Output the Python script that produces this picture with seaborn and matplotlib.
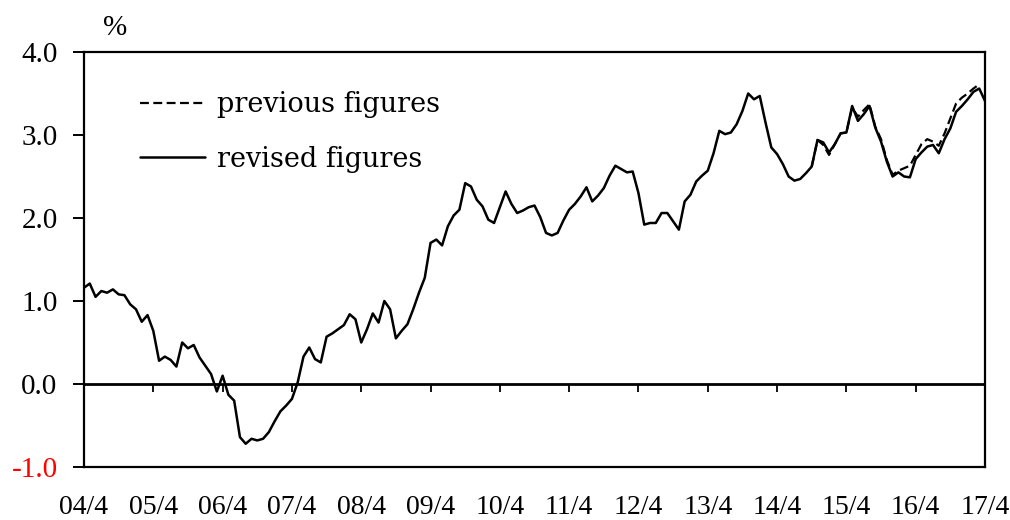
import numpy as np
import pandas as pd
import matplotlib
matplotlib.use("Agg")
import matplotlib.pyplot as plt
import seaborn as sns
from matplotlib.lines import Line2D

# monthly values, 2004/4 .. 2017/4 (%)
revised = [
    1.16, 1.21, 1.05, 1.12, 1.10, 1.14, 1.08, 1.07, 0.96, 0.90, 0.75, 0.83,
    0.64, 0.28, 0.33, 0.29, 0.21, 0.50, 0.43, 0.47, 0.32, 0.22, 0.12, -0.09,
    0.10, -0.13, -0.20, -0.64, -0.72, -0.66, -0.68, -0.66, -0.58, -0.45, -0.33, -0.26,
    -0.18, 0.02, 0.33, 0.44, 0.30, 0.26, 0.57, 0.61, 0.66, 0.71, 0.84, 0.78,
    0.50, 0.66, 0.85, 0.74, 1.00, 0.90, 0.55, 0.64, 0.72, 0.90, 1.10, 1.28,
    1.70, 1.74, 1.67, 1.90, 2.03, 2.10, 2.42, 2.38, 2.22, 2.14, 1.98, 1.94,
    2.13, 2.32, 2.17, 2.06, 2.09, 2.13, 2.15, 2.01, 1.82, 1.79, 1.82, 1.97,
    2.10, 2.17, 2.26, 2.37, 2.20, 2.27, 2.36, 2.51, 2.63, 2.59, 2.55, 2.56,
    2.30, 1.92, 1.94, 1.94, 2.06, 2.06, 1.96, 1.86, 2.20, 2.28, 2.44, 2.51,
    2.57, 2.78, 3.05, 3.01, 3.03, 3.13, 3.29, 3.50, 3.43, 3.47, 3.15, 2.85,
    2.77, 2.65, 2.50, 2.45, 2.47, 2.54, 2.62, 2.94, 2.91, 2.79, 2.89, 3.02,
    3.03, 3.35, 3.17, 3.25, 3.35, 3.09, 2.92, 2.68, 2.50, 2.55, 2.50, 2.49,
    2.71, 2.79, 2.86, 2.88, 2.78, 2.95, 3.08, 3.28, 3.35, 3.43, 3.52, 3.56,
    3.41,
]

# previous figures only differ from 2014/10 on (month index 126 .. 155)
prev_start = 126
previous = [
    2.62, 2.94, 2.88, 2.76, 2.89, 3.02,
    3.03, 3.33, 3.22, 3.30, 3.37, 3.10, 2.95, 2.70, 2.52, 2.57, 2.60, 2.63,
    2.76, 2.89, 2.95, 2.92, 2.87, 3.02, 3.20, 3.38, 3.45, 3.50, 3.56, 3.61,
]

year_labels = ["04/4", "05/4", "06/4", "07/4", "08/4", "09/4", "10/4",
               "11/4", "12/4", "13/4", "14/4", "15/4", "16/4", "17/4"]
y_ticks = [-1.0, 0.0, 1.0, 2.0, 3.0, 4.0]

df_rev = pd.DataFrame({"month": np.arange(len(revised)), "value": revised})
df_prev = pd.DataFrame({"month": np.arange(prev_start, prev_start + len(previous)),
                        "value": previous})

sns.set_theme(style="white", rc={"text.color": "black", "xtick.color": "black",
                                 "ytick.color": "black", "axes.labelcolor": "black"})
plt.rcParams["font.family"] = ["Liberation Serif", "DejaVu Serif"]

fig = plt.figure(figsize=(10.1, 5.2), dpi=100)
ax = fig.add_axes([84 / 1010, 1 - 467 / 520, 901 / 1010, 415 / 520])

sns.lineplot(data=df_prev, x="month", y="value", ax=ax, color="black",
             linewidth=1.6, linestyle=(0, (4, 2)))
sns.lineplot(data=df_rev, x="month", y="value", ax=ax, color="black",
             linewidth=1.8)

ax.set_xlim(0, len(revised) - 1)
ax.set_ylim(-1, 4)
ax.set_xlabel("")
ax.set_ylabel("")

# x labels at the bottom, small tick marks hanging from the zero line
tick_pos = np.arange(len(year_labels)) * 12
ax.set_xticks(tick_pos)
ax.set_xticklabels(year_labels, fontsize=20)
ax.tick_params(axis="x", length=0, pad=20)
ax.axhline(0, color="black", linewidth=2.0)
ax.vlines(tick_pos[1:-1], -0.1, 0, color="black", linewidth=1.3)

ax.set_yticks(y_ticks)
ax.set_yticklabels([f"{v:.1f}" for v in y_ticks], fontsize=21)
ax.tick_params(axis="y", direction="out", length=8, width=1.4, pad=11, left=True)
ax.get_yticklabels()[0].set_color("red")

for sp in ax.spines.values():
    sp.set_visible(True)
    sp.set_color("black")
    sp.set_linewidth(1.6)

ax.text(0.034, 1.058, "%", transform=ax.transAxes, ha="center", va="center",
        fontsize=21)

handles = [Line2D([], [], color="black", linewidth=1.6, linestyle=(0, (4, 2))),
           Line2D([], [], color="black", linewidth=1.8)]
ax.legend(handles, ["previous figures", "revised figures"], loc="upper left",
          bbox_to_anchor=(0.062, 0.905), frameon=False, borderpad=0,
          borderaxespad=0, handlelength=2.4, handletextpad=0.45,
          labelspacing=1.0, prop={"family": "DejaVu Serif", "size": 19.5})

fig.savefig("out.png", dpi=100)
